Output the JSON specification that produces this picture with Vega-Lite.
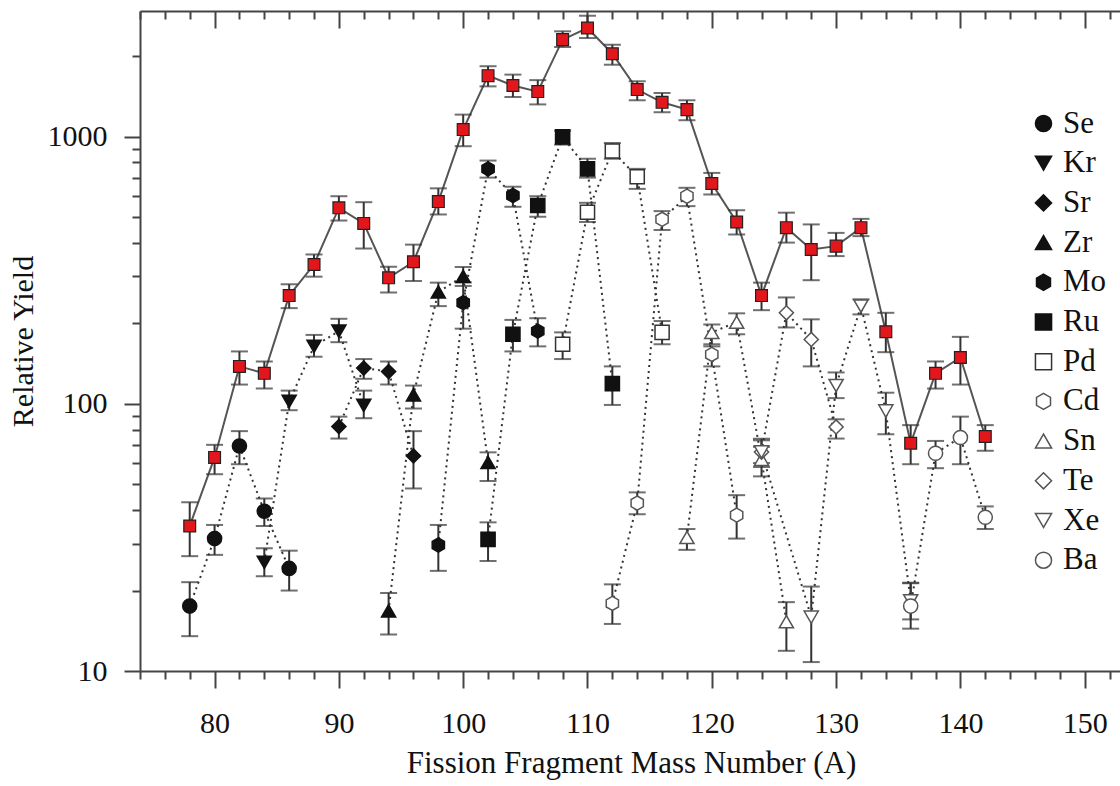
{
  "$schema": "https://vega.github.io/schema/vega-lite/v6.json",
  "width": 982,
  "height": 660,
  "autosize": "none",
  "padding": {"left": 140, "top": 11, "right": 0, "bottom": 115},
  "background": "white",
  "config": {"view": {"stroke": null}, "font": "Liberation Serif"},
  "data": {"values": [
    {"A": 78, "el": "Total", "y": 34.9, "lo": 26.9, "hi": 42.8},
    {"A": 80, "el": "Total", "y": 63, "lo": 54.5, "hi": 70.2},
    {"A": 82, "el": "Total", "y": 138, "lo": 118, "hi": 157},
    {"A": 84, "el": "Total", "y": 130, "lo": 114, "hi": 144},
    {"A": 86, "el": "Total", "y": 254, "lo": 228, "hi": 280},
    {"A": 88, "el": "Total", "y": 332, "lo": 299, "hi": 362},
    {"A": 90, "el": "Total", "y": 541, "lo": 485, "hi": 598},
    {"A": 92, "el": "Total", "y": 473, "lo": 381, "hi": 568},
    {"A": 94, "el": "Total", "y": 296, "lo": 261, "hi": 326},
    {"A": 96, "el": "Total", "y": 340, "lo": 288, "hi": 394},
    {"A": 98, "el": "Total", "y": 571, "lo": 511, "hi": 640},
    {"A": 100, "el": "Total", "y": 1062, "lo": 920, "hi": 1208},
    {"A": 102, "el": "Total", "y": 1690, "lo": 1541, "hi": 1833},
    {"A": 104, "el": "Total", "y": 1552, "lo": 1406, "hi": 1705},
    {"A": 106, "el": "Total", "y": 1473, "lo": 1319, "hi": 1626},
    {"A": 108, "el": "Total", "y": 2305, "lo": 2163, "hi": 2476},
    {"A": 110, "el": "Total", "y": 2548, "lo": 2337, "hi": 2832},
    {"A": 112, "el": "Total", "y": 2042, "lo": 1857, "hi": 2206},
    {"A": 114, "el": "Total", "y": 1499, "lo": 1367, "hi": 1610},
    {"A": 116, "el": "Total", "y": 1343, "lo": 1233, "hi": 1455},
    {"A": 118, "el": "Total", "y": 1261, "lo": 1151, "hi": 1367},
    {"A": 120, "el": "Total", "y": 667, "lo": 607, "hi": 731},
    {"A": 122, "el": "Total", "y": 479, "lo": 430, "hi": 530},
    {"A": 124, "el": "Total", "y": 254, "lo": 224, "hi": 284},
    {"A": 126, "el": "Total", "y": 456, "lo": 401, "hi": 519},
    {"A": 128, "el": "Total", "y": 378, "lo": 290, "hi": 469},
    {"A": 130, "el": "Total", "y": 389, "lo": 357, "hi": 436},
    {"A": 132, "el": "Total", "y": 456, "lo": 424, "hi": 492},
    {"A": 134, "el": "Total", "y": 186, "lo": 156, "hi": 219},
    {"A": 136, "el": "Total", "y": 71.2, "lo": 59.4, "hi": 83.2},
    {"A": 138, "el": "Total", "y": 130, "lo": 114, "hi": 144},
    {"A": 140, "el": "Total", "y": 149, "lo": 118, "hi": 178},
    {"A": 142, "el": "Total", "y": 75.4, "lo": 66.7, "hi": 83.2},
    {"A": 78, "el": "Se", "y": 17.5, "lo": 13.5, "hi": 21.5},
    {"A": 80, "el": "Se", "y": 31.3, "lo": 27.2, "hi": 35.2},
    {"A": 82, "el": "Se", "y": 69.5, "lo": 59.4, "hi": 79},
    {"A": 84, "el": "Se", "y": 39.6, "lo": 34.9, "hi": 44.2},
    {"A": 86, "el": "Se", "y": 24.2, "lo": 20.0, "hi": 28.2},
    {"A": 84, "el": "Kr", "y": 25.5, "lo": 22.6, "hi": 28.8},
    {"A": 86, "el": "Kr", "y": 102, "lo": 94.6, "hi": 112},
    {"A": 88, "el": "Kr", "y": 164, "lo": 150, "hi": 181},
    {"A": 90, "el": "Kr", "y": 187, "lo": 170, "hi": 208},
    {"A": 92, "el": "Kr", "y": 98.6, "lo": 88.3, "hi": 112},
    {"A": 90, "el": "Sr", "y": 82.2, "lo": 74.1, "hi": 89.5},
    {"A": 92, "el": "Sr", "y": 136, "lo": 124, "hi": 147},
    {"A": 94, "el": "Sr", "y": 132, "lo": 118, "hi": 144},
    {"A": 96, "el": "Sr", "y": 63.8, "lo": 48.2, "hi": 79},
    {"A": 94, "el": "Zr", "y": 16.8, "lo": 13.7, "hi": 19.6},
    {"A": 96, "el": "Zr", "y": 108, "lo": 96, "hi": 117},
    {"A": 98, "el": "Zr", "y": 262, "lo": 232, "hi": 284},
    {"A": 100, "el": "Zr", "y": 300, "lo": 276, "hi": 325},
    {"A": 102, "el": "Zr", "y": 60.3, "lo": 51.4, "hi": 65.8},
    {"A": 98, "el": "Mo", "y": 29.6, "lo": 23.7, "hi": 35.2},
    {"A": 100, "el": "Mo", "y": 239, "lo": 191, "hi": 285},
    {"A": 102, "el": "Mo", "y": 757, "lo": 702, "hi": 813},
    {"A": 104, "el": "Mo", "y": 602, "lo": 546, "hi": 649},
    {"A": 106, "el": "Mo", "y": 187, "lo": 164, "hi": 209},
    {"A": 102, "el": "Ru", "y": 31.1, "lo": 25.8, "hi": 36},
    {"A": 104, "el": "Ru", "y": 182, "lo": 157, "hi": 206},
    {"A": 106, "el": "Ru", "y": 552, "lo": 501, "hi": 598},
    {"A": 108, "el": "Ru", "y": 997, "lo": 933, "hi": 1052},
    {"A": 110, "el": "Ru", "y": 757, "lo": 702, "hi": 826},
    {"A": 112, "el": "Ru", "y": 119, "lo": 99, "hi": 138},
    {"A": 108, "el": "Pd", "y": 167, "lo": 147, "hi": 185},
    {"A": 110, "el": "Pd", "y": 521, "lo": 479, "hi": 565},
    {"A": 112, "el": "Pd", "y": 883, "lo": 826, "hi": 946},
    {"A": 114, "el": "Pd", "y": 707, "lo": 637, "hi": 757},
    {"A": 116, "el": "Pd", "y": 185, "lo": 167, "hi": 204},
    {"A": 112, "el": "Cd", "y": 17.9, "lo": 15.0, "hi": 21.1},
    {"A": 114, "el": "Cd", "y": 42.5, "lo": 38.6, "hi": 46.6},
    {"A": 116, "el": "Cd", "y": 490, "lo": 447, "hi": 526},
    {"A": 118, "el": "Cd", "y": 598, "lo": 549, "hi": 643},
    {"A": 120, "el": "Cd", "y": 153, "lo": 138, "hi": 164},
    {"A": 122, "el": "Cd", "y": 38.3, "lo": 31.3, "hi": 45.5},
    {"A": 118, "el": "Sn", "y": 31.6, "lo": 28.4, "hi": 34.0},
    {"A": 120, "el": "Sn", "y": 185, "lo": 167, "hi": 198},
    {"A": 122, "el": "Sn", "y": 202, "lo": 182, "hi": 218},
    {"A": 124, "el": "Sn", "y": 62, "lo": 53.5, "hi": 69},
    {"A": 126, "el": "Sn", "y": 15.3, "lo": 11.9, "hi": 18.1},
    {"A": 124, "el": "Te", "y": 66, "lo": 58, "hi": 74},
    {"A": 126, "el": "Te", "y": 219, "lo": 193, "hi": 250},
    {"A": 128, "el": "Te", "y": 174, "lo": 138, "hi": 207},
    {"A": 130, "el": "Te", "y": 81.9, "lo": 74.1, "hi": 87.5},
    {"A": 124, "el": "Xe", "y": 66, "lo": 60, "hi": 73},
    {"A": 128, "el": "Xe", "y": 15.9, "lo": 10.8, "hi": 20.7},
    {"A": 130, "el": "Xe", "y": 117, "lo": 105, "hi": 131},
    {"A": 132, "el": "Xe", "y": 232, "lo": 216, "hi": 246},
    {"A": 134, "el": "Xe", "y": 94, "lo": 76.9, "hi": 110},
    {"A": 136, "el": "Xe", "y": 18.3, "lo": 15.6, "hi": 21.4},
    {"A": 136, "el": "Ba", "y": 17.5, "lo": 14.4, "hi": 21.3},
    {"A": 138, "el": "Ba", "y": 65.3, "lo": 57.4, "hi": 72.6},
    {"A": 140, "el": "Ba", "y": 74.8, "lo": 59.4, "hi": 89.5},
    {"A": 142, "el": "Ba", "y": 37.6, "lo": 34.0, "hi": 41.3}
  ]},
  "layer": [
    {
      "transform": [{"filter": "datum.el !== 'Total'"}],
      "mark": {"type": "line", "strokeDash": [2, 4], "strokeWidth": 2, "color": "#333", "clip": true},
      "encoding": {
        "x": {"field": "A", "type": "quantitative", "scale": {"domain": [74, 153], "nice": false, "zero": false},
          "axis": {"orient": "bottom", "title": "Fission Fragment Mass Number (A)", "grid": false,
            "values": [74,76,78,80,82,84,86,88,90,92,94,96,98,100,102,104,106,108,110,112,114,116,118,120,122,124,126,128,130,132,134,136,138,140,142,144,146,148,150,152],
            "labelExpr": "datum.value % 10 === 0 ? datum.label : ''", "format": "d",
            "tickSize": {"condition": {"test": "datum.value % 10 !== 0", "value": 8}, "value": 17},
            "labelOverlap": false, "labelFlush": false, "labelPadding": 20,
            "labelFont": "Liberation Serif", "labelFontSize": 30, "labelColor": "#111",
            "titleFont": "Liberation Serif", "titleFontSize": 31, "titleFontWeight": "normal", "titleColor": "#111", "titlePadding": 10,
            "tickWidth": 2, "tickColor": "#444", "domainColor": "#444", "domainWidth": 2}},
        "y": {"field": "y", "type": "quantitative", "scale": {"type": "log", "domain": [10, 2950], "nice": false},
          "axis": {"orient": "left", "title": "Relative Yield", "grid": false,
            "values": [10,20,30,40,50,60,70,80,90,100,200,300,400,500,600,700,800,900,1000,2000],
            "labelExpr": "(datum.value === 10 || datum.value === 100 || datum.value === 1000) ? datum.label : ''", "format": "d",
            "tickSize": {"condition": {"test": "datum.value !== 10 && datum.value !== 100 && datum.value !== 1000", "value": 8}, "value": 16},
            "labelOverlap": false, "labelFlush": false, "labelPadding": 17,
            "labelFont": "Liberation Serif", "labelFontSize": 30, "labelColor": "#111",
            "titleFont": "Liberation Serif", "titleFontSize": 30, "titleFontWeight": "normal", "titleColor": "#111", "titlePadding": 9,
            "tickWidth": 2, "tickColor": "#444", "domainColor": "#444", "domainWidth": 2}},
        "detail": {"field": "el"}
      }
    },
    {
      "transform": [{"filter": "datum.el === 'Total'"}],
      "mark": {"type": "line", "strokeWidth": 2, "color": "#555", "clip": true},
      "encoding": {
        "x": {"field": "A", "type": "quantitative", "scale": {"domain": [74, 153], "nice": false, "zero": false},
          "axis": {"orient": "top", "title": null, "labels": false, "grid": false,
            "values": [74,76,78,80,82,84,86,88,90,92,94,96,98,100,102,104,106,108,110,112,114,116,118,120,122,124,126,128,130,132,134,136,138,140,142,144,146,148,150,152],
            "tickSize": {"condition": {"test": "datum.value % 10 !== 0", "value": -8}, "value": -17},
            "tickWidth": 2, "tickColor": "#444", "domainColor": "#444", "domainWidth": 2}},
        "y": {"field": "y", "type": "quantitative", "scale": {"type": "log", "domain": [10, 2950], "nice": false},
          "axis": {"orient": "right", "title": null, "labels": false, "ticks": false, "grid": false, "domain": false}}
      }
    },
    {
      "mark": {"type": "rule", "strokeWidth": 2, "color": "#333", "clip": true},
      "encoding": {
        "x": {"field": "A", "type": "quantitative", "scale": {"domain": [74, 153], "nice": false, "zero": false}, "axis": null},
        "y": {"field": "lo", "type": "quantitative", "scale": {"type": "log", "domain": [10, 2950], "nice": false}, "axis": null},
        "y2": {"field": "hi"}
      }
    },
    {
      "mark": {"type": "tick", "orient": "horizontal", "size": 17, "thickness": 2, "color": "#333", "clip": true},
      "encoding": {
        "x": {"field": "A", "type": "quantitative", "scale": {"domain": [74, 153], "nice": false, "zero": false}, "axis": null},
        "y": {"field": "lo", "type": "quantitative", "scale": {"type": "log", "domain": [10, 2950], "nice": false}, "axis": null}
      }
    },
    {
      "mark": {"type": "tick", "orient": "horizontal", "size": 17, "thickness": 2, "color": "#333", "clip": true},
      "encoding": {
        "x": {"field": "A", "type": "quantitative", "scale": {"domain": [74, 153], "nice": false, "zero": false}, "axis": null},
        "y": {"field": "hi", "type": "quantitative", "scale": {"type": "log", "domain": [10, 2950], "nice": false}, "axis": null}
      }
    },
    {
      "transform": [{"filter": "datum.el !== 'Total'"}],
      "mark": {"type": "point", "filled": true, "size": 200, "strokeWidth": 1.5, "opacity": 1},
      "encoding": {
        "x": {"field": "A", "type": "quantitative", "scale": {"domain": [74, 153], "nice": false, "zero": false}, "axis": null},
        "y": {"field": "y", "type": "quantitative", "scale": {"type": "log", "domain": [10, 2950], "nice": false}, "axis": null},
        "shape": {"field": "el", "type": "nominal",
          "scale": {"domain": ["Se","Kr","Sr","Zr","Mo","Ru","Pd","Cd","Sn","Te","Xe","Ba"],
            "range": ["circle","triangle-down","diamond","triangle-up","M0,-1L0.866,-0.5L0.866,0.5L0,1L-0.866,0.5L-0.866,-0.5Z","square","square","M0,-1L0.866,-0.5L0.866,0.5L0,1L-0.866,0.5L-0.866,-0.5Z","triangle-up","diamond","triangle-down","circle"]},
          "legend": {"title": null, "orient": "none", "legendX": 888, "legendY": 97, "padding": 0, "rowPadding": 7.7, "labelOffset": 4,
            "labelFont": "Liberation Serif", "labelFontSize": 31, "labelColor": "#111", "symbolSize": 260, "symbolStrokeWidth": 1.5}},
        "fill": {"field": "el", "type": "nominal",
          "scale": {"domain": ["Se","Kr","Sr","Zr","Mo","Ru","Pd","Cd","Sn","Te","Xe","Ba"],
            "range": ["#111","#111","#111","#111","#111","#111","white","white","white","white","white","white"]},
          "legend": {"title": null, "orient": "none", "legendX": 888, "legendY": 97, "padding": 0, "rowPadding": 7.7, "labelOffset": 4,
            "labelFont": "Liberation Serif", "labelFontSize": 31, "labelColor": "#111", "symbolSize": 260, "symbolStrokeWidth": 1.5}},
        "stroke": {"field": "el", "type": "nominal",
          "scale": {"domain": ["Se","Kr","Sr","Zr","Mo","Ru","Pd","Cd","Sn","Te","Xe","Ba"],
            "range": ["#111","#111","#111","#111","#111","#111","#333","#555","#555","#555","#555","#555"]},
          "legend": {"title": null, "orient": "none", "legendX": 888, "legendY": 97, "padding": 0, "rowPadding": 7.7, "labelOffset": 4,
            "labelFont": "Liberation Serif", "labelFontSize": 31, "labelColor": "#111", "symbolSize": 260, "symbolStrokeWidth": 1.5}}
      }
    },
    {
      "transform": [{"filter": "datum.el === 'Total'"}],
      "mark": {"type": "point", "shape": "square", "filled": true, "size": 140, "fill": "#e3161c", "stroke": "#222", "strokeWidth": 1.2, "opacity": 1},
      "encoding": {
        "x": {"field": "A", "type": "quantitative", "scale": {"domain": [74, 153], "nice": false, "zero": false}, "axis": null},
        "y": {"field": "y", "type": "quantitative", "scale": {"type": "log", "domain": [10, 2950], "nice": false}, "axis": null}
      }
    }
  ]
}
